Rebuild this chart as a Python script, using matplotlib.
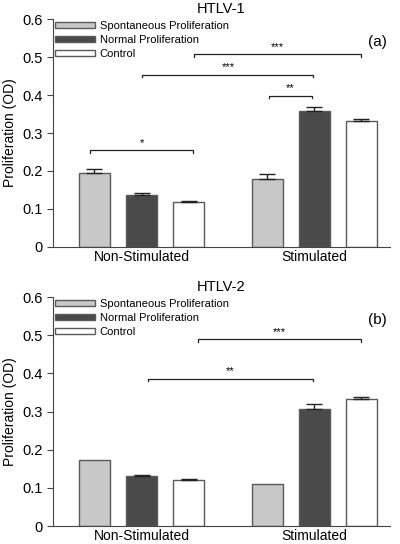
#!/usr/bin/env python3
"""Proliferation bar charts, HTLV-1 and HTLV-2"""
import numpy as np
import matplotlib
matplotlib.use('Agg')
import matplotlib.pyplot as plt

plt.rcParams['font.family'] = ['Liberation Sans', 'DejaVu Sans']

groups = ['Non-Stimulated', 'Stimulated']
series = ['Spontaneous Proliferation', 'Normal Proliferation', 'Control']
colors = ['#c8c8c8', '#4a4a4a', '#ffffff']

# HTLV-1
h1_spont = [0.196, 0.179]
h1_normal = [0.137, 0.359]
h1_control = [0.118, 0.331]
h1_spont_err = [0.010, 0.012]
h1_normal_err = [0.004, 0.010]
h1_control_err = [0.004, 0.007]
# (x1, x2, y, label)
h1_brackets = [(-0.30, 0.30, 0.255, '*'),
               (0.005, 0.996, 0.454, '***'),
               (0.306, 1.272, 0.508, '***'),
               (0.737, 0.987, 0.398, '**')]

# HTLV-2
h2_spont = [0.173, 0.111]
h2_normal = [0.130, 0.306]
h2_control = [0.120, 0.332]
h2_spont_err = [0.0, 0.0]
h2_normal_err = [0.005, 0.013]
h2_control_err = [0.004, 0.007]
h2_brackets = [(0.036, 0.996, 0.386, '**'),
               (0.326, 1.272, 0.489, '***')]

STEP = 0.2725
WIDTH = 0.18


def draw_panel(ax, vals, errs, brackets, title, tag):
    x = np.arange(len(groups))
    for i, (v, e, c, lab) in enumerate(zip(vals, errs, colors, series)):
        xi = x + (i - 1) * STEP
        ax.bar(xi, v, WIDTH, color=c, edgecolor='#5a5a5a', linewidth=1.0,
               label=lab, zorder=2)
        for xx, vv, ee in zip(xi, v, e):
            if ee > 0:
                ax.errorbar(xx, vv, yerr=[[0], [ee]], fmt='none', ecolor='#222222',
                            elinewidth=1.0, capsize=5.5, capthick=1.0, zorder=3)
    for x1, x2, y, lab in brackets:
        h = 0.007
        ax.plot([x1, x1, x2, x2], [y - h, y, y, y - h], color='#222222', lw=0.9)
        ax.text((x1 + x2) / 2, y + 0.006, lab, ha='center', va='bottom', fontsize=8)
    ax.set_xlim(-0.513, 1.44)
    ax.set_ylim(0, 0.6)
    ax.set_yticks([0, 0.1, 0.2, 0.3, 0.4, 0.5, 0.6])
    ax.set_yticklabels(['0', '0.1', '0.2', '0.3', '0.4', '0.5', '0.6'])
    ax.set_xticks(x)
    ax.set_xticklabels(groups, fontsize=10)
    ax.tick_params(axis='x', length=0, pad=2)
    ax.tick_params(axis='y', labelsize=10.5, length=4, color='#444444', direction='out')
    ax.set_ylabel('Proliferation (OD)', fontsize=10)
    ax.set_title(title, fontsize=10.5, pad=4)
    ax.spines['top'].set_visible(False)
    ax.spines['right'].set_visible(False)
    ax.spines['left'].set_color('#444444')
    ax.spines['bottom'].set_color('#444444')
    ax.text(0.99, 0.90, tag, transform=ax.transAxes, ha='right', va='center', fontsize=11)
    ax.legend(loc='upper left', frameon=False, fontsize=8, handlelength=3.6,
              handleheight=0.5, handletextpad=0.4, labelspacing=0.35,
              borderaxespad=0.0, borderpad=0.2, bbox_to_anchor=(0.0, 1.0))


fig = plt.figure(figsize=(4, 5.44), dpi=100)
ax1 = fig.add_axes([0.1325, 0.546, 0.8425, 0.419])
ax2 = fig.add_axes([0.1325, 0.033, 0.8425, 0.421])

draw_panel(ax1, [h1_spont, h1_normal, h1_control],
           [h1_spont_err, h1_normal_err, h1_control_err], h1_brackets, 'HTLV-1', '(a)')
draw_panel(ax2, [h2_spont, h2_normal, h2_control],
           [h2_spont_err, h2_normal_err, h2_control_err], h2_brackets, 'HTLV-2', '(b)')

fig.savefig('out.png', dpi=100)
